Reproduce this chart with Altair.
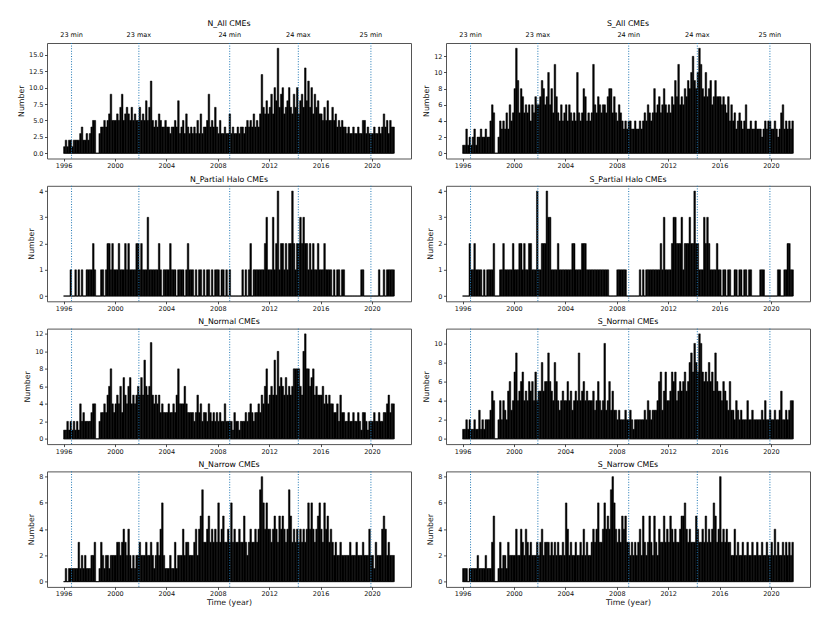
import altair as alt
import pandas as pd

FONT = "DejaVu Sans"
START_YEAR = 1996.0
STEP = 0.125
DATA_END = 2021.7

X_TICKS = [1996, 2000, 2004, 2008, 2012, 2016, 2020]
X_DOMAIN = [1994.71, 2023.04]

CYCLE_YEARS = [1996.62, 2001.86, 2008.93, 2014.27, 2019.92]
CYCLE_LABELS = ["23 min", "23 max", "24 min", "24 max", "25 min"]

# values per 1/8 year bin, one row per year (1996 ... 2021)
N_ALL = [
    1, 2, 1, 2, 2, 1, 2, 2,
    2, 2, 3, 4, 2, 2, 3, 2,
    3, 4, 5, 5, 0, 0, 3, 4,
    4, 5, 4, 5, 6, 9, 5, 5,
    5, 6, 5, 7, 9, 5, 6, 7,
    6, 5, 7, 5, 6, 5, 5, 7,
    5, 6, 5, 8, 5, 7, 11, 5,
    4, 5, 4, 6, 5, 4, 4, 5,
    4, 4, 3, 4, 4, 5, 4, 8,
    3, 4, 5, 3, 6, 4, 3, 4,
    3, 4, 3, 5, 3, 6, 3, 4,
    4, 5, 9, 4, 5, 4, 7, 4,
    3, 5, 3, 3, 4, 3, 3, 6,
    3, 4, 3, 3, 4, 3, 4, 4,
    3, 4, 5, 4, 5, 4, 6, 4,
    5, 4, 6, 12, 7, 6, 8, 6,
    7, 9, 6, 10, 8, 16, 7, 9,
    10, 6, 7, 8, 10, 7, 6, 9,
    7, 10, 6, 8, 9, 7, 13, 8,
    11, 7, 10, 6, 9, 7, 8, 6,
    6, 5, 7, 5, 8, 5, 5, 7,
    5, 6, 4, 5, 4, 5, 4, 4,
    3, 4, 3, 3, 4, 3, 3, 4,
    3, 3, 5, 5, 3, 4, 3, 3,
    3, 4, 3, 3, 4, 3, 4, 6,
    4, 5, 3, 5, 4, 4,
]

S_ALL = [
    1, 1, 3, 1, 2, 1, 2, 3,
    1, 2, 2, 3, 2, 2, 3, 2,
    2, 4, 6, 5, 0, 0, 2, 4,
    3, 4, 3, 5, 3, 6, 4, 5,
    8, 13, 9, 5, 8, 7, 5, 6,
    5, 6, 4, 6, 5, 7, 6, 6,
    7, 9, 8, 6, 7, 10, 6, 8,
    5, 11, 7, 5, 4, 6, 4, 5,
    6, 4, 6, 5, 4, 5, 4, 10,
    5, 4, 5, 8, 7, 4, 5, 4,
    5, 11, 6, 5, 7, 6, 5, 6,
    6, 5, 7, 8, 8, 5, 7, 5,
    4, 6, 5, 4, 3, 4, 3, 4,
    4, 3, 3, 4, 3, 3, 4, 3,
    4, 5, 4, 6, 5, 4, 5, 8,
    5, 6, 7, 5, 6, 8, 6, 5,
    6, 5, 7, 6, 9, 7, 11, 6,
    7, 6, 8, 7, 9, 8, 10, 12,
    9, 8, 10, 13, 11, 8, 7, 10,
    7, 8, 9, 6, 7, 9, 7, 7,
    7, 6, 7, 6, 5, 7, 4, 6,
    4, 5, 3, 4, 5, 4, 3, 4,
    6, 3, 3, 4, 3, 3, 4, 3,
    3, 3, 2, 3, 4, 3, 4, 4,
    3, 3, 4, 3, 2, 3, 5, 6,
    3, 4, 3, 4, 3, 4,
]

N_PH = [
    0, 0, 0, 0, 1, 0, 0, 1,
    0, 1, 0, 1, 0, 0, 1, 1,
    1, 1, 2, 1, 0, 0, 0, 1,
    1, 0, 1, 2, 2, 1, 2, 1,
    1, 1, 2, 1, 1, 1, 2, 1,
    2, 1, 1, 1, 1, 2, 2, 1,
    2, 1, 1, 1, 3, 1, 1, 1,
    1, 1, 1, 2, 1, 0, 1, 1,
    1, 1, 2, 1, 1, 1, 0, 1,
    1, 1, 1, 0, 1, 2, 1, 1,
    1, 0, 1, 0, 1, 1, 0, 1,
    0, 1, 1, 0, 1, 0, 1, 1,
    1, 0, 1, 1, 0, 1, 0, 1,
    0, 0, 0, 0, 0, 0, 0, 1,
    0, 1, 0, 1, 2, 0, 1, 1,
    1, 1, 1, 1, 1, 2, 3, 1,
    1, 1, 3, 1, 2, 4, 1, 2,
    2, 1, 2, 1, 2, 2, 4, 2,
    1, 2, 2, 3, 2, 3, 2, 2,
    1, 2, 1, 2, 1, 1, 2, 1,
    1, 1, 2, 1, 1, 1, 1, 0,
    1, 0, 1, 1, 0, 1, 1, 0,
    0, 0, 0, 0, 0, 0, 0, 0,
    0, 1, 1, 0, 0, 0, 0, 0,
    0, 0, 0, 0, 1, 0, 0, 1,
    0, 1, 1, 1, 1, 1,
]

S_PH = [
    0, 0, 0, 0, 2, 1, 1, 2,
    1, 1, 1, 1, 0, 1, 0, 1,
    1, 1, 1, 2, 0, 0, 0, 1,
    1, 2, 1, 1, 1, 1, 1, 2,
    1, 1, 1, 2, 2, 1, 2, 1,
    1, 2, 2, 1, 1, 1, 4, 1,
    1, 2, 2, 2, 4, 3, 3, 1,
    1, 1, 1, 2, 1, 1, 1, 1,
    1, 1, 1, 1, 2, 2, 1, 1,
    1, 1, 2, 2, 2, 1, 1, 1,
    1, 1, 1, 1, 1, 1, 1, 1,
    1, 1, 1, 0, 0, 0, 0, 0,
    1, 1, 1, 1, 1, 1, 0, 0,
    0, 0, 0, 0, 0, 0, 1, 0,
    1, 0, 1, 1, 1, 1, 1, 1,
    1, 1, 1, 2, 1, 3, 1, 1,
    1, 1, 2, 3, 3, 2, 2, 2,
    3, 1, 2, 2, 2, 3, 2, 2,
    4, 2, 2, 1, 1, 1, 3, 2,
    3, 2, 1, 1, 1, 1, 2, 1,
    1, 0, 1, 1, 0, 1, 1, 0,
    0, 1, 1, 0, 1, 1, 0, 1,
    1, 0, 1, 1, 0, 0, 0, 0,
    0, 1, 1, 1, 0, 0, 0, 0,
    0, 0, 0, 0, 1, 1, 0, 0,
    1, 1, 2, 2, 1, 1,
]

N_NORMAL = [
    1, 1, 2, 1, 2, 1, 2, 1,
    2, 1, 4, 2, 3, 2, 2, 2,
    2, 3, 4, 4, 0, 0, 2, 3,
    3, 4, 3, 5, 6, 8, 4, 3,
    4, 5, 4, 6, 3, 7, 5, 4,
    6, 7, 4, 5, 4, 5, 6, 5,
    7, 5, 9, 6, 5, 6, 11, 5,
    4, 5, 4, 5, 3, 4, 3, 3,
    3, 4, 3, 3, 4, 3, 5, 8,
    4, 4, 4, 6, 4, 3, 3, 3,
    3, 2, 3, 5, 3, 4, 2, 3,
    3, 2, 4, 3, 2, 3, 2, 3,
    2, 3, 2, 2, 4, 2, 2, 2,
    2, 1, 3, 2, 2, 1, 2, 2,
    2, 3, 2, 3, 4, 3, 2, 3,
    3, 4, 3, 5, 4, 6, 8, 4,
    5, 6, 5, 9, 5, 10, 6, 7,
    6, 5, 7, 5, 6, 5, 6, 8,
    8, 8, 8, 6, 5, 10, 12, 8,
    8, 6, 7, 8, 5, 6, 5, 5,
    5, 6, 4, 5, 4, 5, 4, 4,
    3, 3, 4, 2, 5, 3, 3, 2,
    2, 3, 2, 2, 3, 2, 2, 3,
    2, 1, 3, 3, 2, 1, 2, 2,
    2, 3, 2, 2, 3, 2, 2, 3,
    3, 4, 5, 3, 4, 4,
]

S_NORMAL = [
    1, 1, 2, 1, 2, 1, 1, 2,
    1, 1, 3, 1, 2, 1, 2, 2,
    2, 3, 5, 4, 0, 0, 2, 4,
    2, 4, 3, 2, 5, 6, 3, 4,
    7, 9, 4, 5, 6, 7, 4, 5,
    4, 6, 5, 6, 4, 7, 4, 5,
    5, 8, 5, 6, 6, 9, 6, 5,
    4, 8, 6, 4, 3, 4, 5, 4,
    4, 6, 4, 5, 3, 4, 5, 4,
    9, 4, 5, 6, 4, 5, 4, 4,
    4, 5, 3, 4, 6, 4, 3, 4,
    10, 3, 4, 6, 3, 5, 3, 3,
    2, 3, 2, 2, 2, 3, 2, 2,
    3, 2, 1, 2, 2, 2, 2, 2,
    2, 3, 2, 4, 3, 2, 3, 3,
    3, 4, 6, 7, 3, 5, 7, 4,
    4, 5, 7, 6, 7, 4, 5, 6,
    5, 6, 7, 5, 6, 8, 9, 7,
    10, 8, 7, 11, 10, 7, 6, 7,
    6, 8, 6, 7, 5, 9, 6, 5,
    5, 4, 6, 5, 4, 3, 6, 3,
    3, 2, 4, 3, 2, 3, 2, 2,
    2, 4, 2, 2, 3, 2, 2, 2,
    2, 2, 3, 2, 4, 2, 2, 3,
    2, 2, 3, 2, 2, 3, 5, 2,
    2, 3, 2, 3, 4, 4,
]

N_NARROW = [
    0, 1, 0, 1, 1, 1, 1, 1,
    1, 3, 1, 2, 1, 2, 1, 1,
    1, 2, 2, 3, 0, 0, 1, 3,
    2, 1, 2, 2, 1, 2, 2, 2,
    2, 3, 3, 2, 3, 4, 3, 2,
    4, 2, 1, 2, 1, 2, 2, 3,
    2, 2, 2, 3, 2, 2, 3, 2,
    1, 2, 3, 2, 4, 6, 2, 1,
    1, 1, 2, 1, 1, 3, 1, 2,
    2, 2, 4, 2, 3, 3, 2, 2,
    2, 3, 4, 2, 4, 5, 7, 3,
    3, 4, 5, 3, 4, 3, 4, 3,
    6, 3, 4, 5, 3, 3, 4, 3,
    6, 3, 4, 3, 3, 4, 3, 3,
    5, 3, 2, 3, 4, 3, 3, 4,
    3, 4, 7, 8, 6, 4, 6, 4,
    4, 3, 4, 5, 4, 3, 5, 4,
    5, 4, 3, 4, 7, 5, 3, 4,
    3, 4, 3, 4, 3, 4, 3, 4,
    6, 4, 6, 4, 3, 4, 5, 6,
    4, 3, 6, 4, 5, 3, 4, 3,
    2, 3, 2, 2, 3, 2, 2, 2,
    2, 2, 3, 2, 2, 2, 3, 2,
    2, 2, 3, 2, 2, 2, 4, 2,
    2, 1, 3, 2, 2, 2, 4, 5,
    4, 2, 3, 2, 2, 2,
]

S_NARROW = [
    1, 1, 1, 0, 1, 1, 1, 1,
    1, 2, 1, 1, 1, 1, 2, 1,
    1, 1, 3, 5, 0, 0, 1, 3,
    1, 2, 2, 1, 3, 2, 2, 2,
    2, 4, 2, 2, 4, 3, 2, 4,
    3, 2, 3, 2, 2, 2, 3, 2,
    3, 4, 2, 3, 3, 3, 2, 3,
    2, 3, 2, 3, 2, 2, 3, 2,
    6, 4, 2, 3, 2, 2, 3, 2,
    2, 3, 2, 4, 2, 3, 2, 2,
    3, 4, 3, 4, 6, 3, 3, 4,
    6, 4, 5, 4, 7, 8, 6, 4,
    3, 4, 3, 5, 4, 5, 3, 3,
    2, 3, 2, 3, 2, 3, 4, 2,
    5, 3, 2, 3, 5, 3, 2, 5,
    3, 2, 4, 3, 3, 5, 3, 4,
    3, 5, 4, 3, 4, 3, 3, 4,
    5, 5, 6, 4, 3, 4, 3, 3,
    3, 5, 4, 3, 3, 4, 3, 5,
    3, 4, 3, 4, 6, 5, 3, 4,
    8, 3, 4, 3, 4, 3, 3, 2,
    2, 4, 2, 3, 2, 2, 3, 2,
    2, 3, 2, 2, 3, 2, 2, 3,
    2, 2, 3, 2, 2, 3, 2, 2,
    3, 2, 4, 2, 3, 2, 2, 3,
    2, 3, 2, 3, 2, 3,
]

PANELS = [
    ("N_All CMEs", N_ALL, [-0.8, 16.8], [0, 2.5, 5, 7.5, 10, 12.5, 15], ".1f"),
    ("S_All CMEs", S_ALL, [-0.65, 13.65], [0, 2, 4, 6, 8, 10, 12], "d"),
    ("N_Partial Halo CMEs", N_PH, [-0.2, 4.2], [0, 1, 2, 3, 4], "d"),
    ("S_Partial Halo CMEs", S_PH, [-0.2, 4.2], [0, 1, 2, 3, 4], "d"),
    ("N_Normal CMEs", N_NORMAL, [-0.6, 12.6], [0, 2, 4, 6, 8, 10, 12], "d"),
    ("S_Normal CMEs", S_NORMAL, [-0.55, 11.55], [0, 2, 4, 6, 8, 10], "d"),
    ("N_Narrow CMEs", N_NARROW, [-0.4, 8.4], [0, 2, 4, 6, 8], "d"),
    ("S_Narrow CMEs", S_NARROW, [-0.4, 8.4], [0, 2, 4, 6, 8], "d"),
]

W, H = 364, 115.5


def panel(idx, title, values, ydom, yticks, yfmt):
    top = idx < 2
    bottom = idx >= 6
    df = pd.DataFrame({
        "t": [START_YEAR + STEP * i for i in range(len(values))],
        "t1": [START_YEAR + STEP * (i + 1) for i in range(len(values))],
        "v": values,
        "z": [0] * len(values),
    })
    xs = alt.Scale(domain=X_DOMAIN, nice=False, zero=False)
    ys = alt.Scale(domain=ydom, nice=False, zero=False)
    if bottom:
        xaxis = alt.Axis(values=X_TICKS, format="d", title="Time (year)", grid=False,
                         titlePadding=1.5)
    else:
        xaxis = alt.Axis(values=X_TICKS, format="d", title=None, grid=False)
    yaxis = alt.Axis(values=yticks, format=yfmt, title="Number", grid=False)
    X = alt.X("t:Q", scale=xs, axis=xaxis)

    base_df = pd.DataFrame({"t": [START_YEAR], "t2": [DATA_END], "v": [0]})
    baseline = alt.Chart(base_df).mark_rule(color="#444", strokeWidth=1).encode(
        x=X, x2="t2:Q", y=alt.Y("v:Q", scale=ys, axis=yaxis)
    )
    bars = alt.Chart(df).mark_rect(
        color="black", stroke="black", strokeWidth=0.5
    ).encode(
        x=X, x2="t1:Q", y=alt.Y("z:Q", scale=ys, axis=yaxis), y2="v:Q"
    )
    cyc_df = pd.DataFrame({"t": CYCLE_YEARS, "lab": CYCLE_LABELS})
    cycles = alt.Chart(cyc_df).mark_rule(
        color="#1f77b4", strokeDash=[1, 1.6], strokeWidth=1
    ).encode(x=X)
    layers = [baseline, bars, cycles]
    if top:
        labels = alt.Chart(cyc_df).mark_text(
            font=FONT, fontSize=6.5, color="black", baseline="middle", align="center"
        ).encode(x=X, y=alt.value(-8), text="lab:N")
        layers.append(labels)
    return alt.layer(*layers).properties(
        width=W,
        height=H,
        title=alt.TitleParams(
            title, font=FONT, fontSize=7.8, fontWeight="normal", anchor="middle",
            frame="group", offset=4 if top else 2, color="black",
        ),
    )


charts = [panel(i, *p) for i, p in enumerate(PANELS)]

chart = alt.concat(
    *charts, columns=2, spacing={"row": 26.8, "column": 35}, bounds="flush"
).configure_view(
    stroke="#555", strokeWidth=1
).configure_axis(
    labelFont=FONT, titleFont=FONT, labelFontSize=6.5, titleFontSize=7.8,
    titleFontWeight="normal", tickSize=2.5, tickColor="#222", tickWidth=0.8,
    labelColor="#111", titleColor="#111", labelPadding=1.5, domain=False,
    titlePadding=3,
).properties(padding={"left": 9, "top": 11, "right": 5, "bottom": 5})

chart.save("out.html", embed_options={"renderer": "svg", "actions": False})
